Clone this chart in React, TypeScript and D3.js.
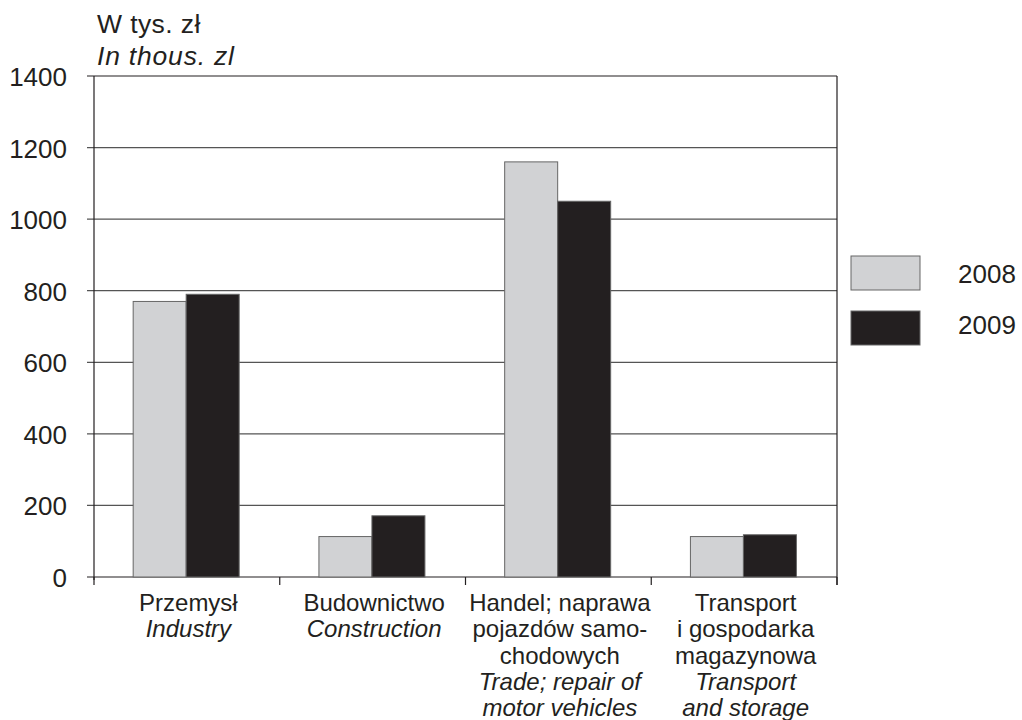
import React from "react";
import * as d3 from "d3";

const categoriesPl: string[][] = [
  ["Przemysł"],
  ["Budownictwo"],
  ["Handel; naprawa", "pojazdów samo-", "chodowych"],
  ["Transport", "i gospodarka", "magazynowa"],
];
const categoriesEn: string[][] = [
  ["Industry"],
  ["Construction"],
  ["Trade; repair of", "motor vehicles"],
  ["Transport", "and storage"],
];
const series = ["2008", "2009"];
const values2008 = [770, 113, 1160, 113];
const values2009 = [790, 171, 1050, 118];
const yTicks = [0, 200, 400, 600, 800, 1000, 1200, 1400];
const colors = ["#d1d2d4", "#231f20"];

const W = 1022;
const H = 720;
const left = 94;
const right = 837;
const top = 76;
const bottom = 577;
const font = "'Liberation Sans', Arial, sans-serif";
const ink = "#231f20";

export default function App() {
  const x = d3
    .scaleBand<number>()
    .domain(d3.range(categoriesPl.length))
    .range([left, right])
    .paddingInner(0)
    .paddingOuter(0);
  const y = d3.scaleLinear().domain([0, 1400]).range([bottom, top]);
  const barW = 53;
  const data = [values2008, values2009];

  return (
    <svg width={W} height={H} style={{ position: "absolute", left: 0, top: 0, background: "#fff" }}>
      <rect x={0} y={0} width={W} height={H} fill="#fff" />
      <text x={97} y={33} fontFamily={font} fontSize={26.5} fill={ink} letterSpacing={0.4}>W tys. zł</text>
      <text x={97} y={65} fontFamily={font} fontSize={26.5} fontStyle="italic" fill={ink} letterSpacing={0.8}>In thous. zl</text>

      {yTicks.map((t) => (
        <g key={t}>
          <line x1={87} x2={right} y1={y(t)} y2={y(t)} stroke={t === 0 || t === 1400 ? ink : "#555"} strokeWidth={1.2} />
          <text x={67} y={y(t) + 10} textAnchor="end" fontFamily={font} fontSize={26} fill={ink}>{t}</text>
        </g>
      ))}
      <line x1={left} x2={left} y1={top} y2={bottom + 3} stroke={ink} strokeWidth={1.2} />
      <line x1={right} x2={right} y1={top} y2={bottom + 8} stroke={ink} strokeWidth={1.2} />
      {d3.range(categoriesPl.length + 1).map((i) => {
        const xx = left + i * x.bandwidth();
        return <line key={i} x1={xx} x2={xx} y1={bottom} y2={bottom + 8} stroke={ink} strokeWidth={1.2} />;
      })}

      {data.map((vals, s) =>
        vals.map((v, i) => {
          const cx = (x(i) as number) + x.bandwidth() / 2 - 0.7;
          const bx = cx - barW + s * barW;
          return (
            <rect key={s + "-" + i} x={bx} y={y(v)} width={barW} height={bottom - y(v)} fill={colors[s]} stroke="#666" strokeWidth={1} />
          );
        })
      )}

      {categoriesPl.map((pl, i) => {
        const cx = (x(i) as number) + x.bandwidth() / 2 + 1.5;
        const lines = [
          ...pl.map((t) => ({ t, it: false })),
          ...categoriesEn[i].map((t) => ({ t, it: true })),
        ];
        return (
          <g key={i}>
            {lines.map((l, k) => (
              <text key={k} x={cx} y={611 + k * 26.3} textAnchor="middle" fontFamily={font} fontSize={24} fontStyle={l.it ? "italic" : "normal"} fill={ink}>
                {l.t}
              </text>
            ))}
          </g>
        );
      })}

      {series.map((s, k) => (
        <g key={s}>
          <rect x={851} y={256 + k * 55} width={69} height={34} fill={colors[k]} stroke="#666" strokeWidth={1} />
          <text x={958} y={283 + k * 51} fontFamily={font} fontSize={26} fill={ink}>{s}</text>
        </g>
      ))}
    </svg>
  );
}
